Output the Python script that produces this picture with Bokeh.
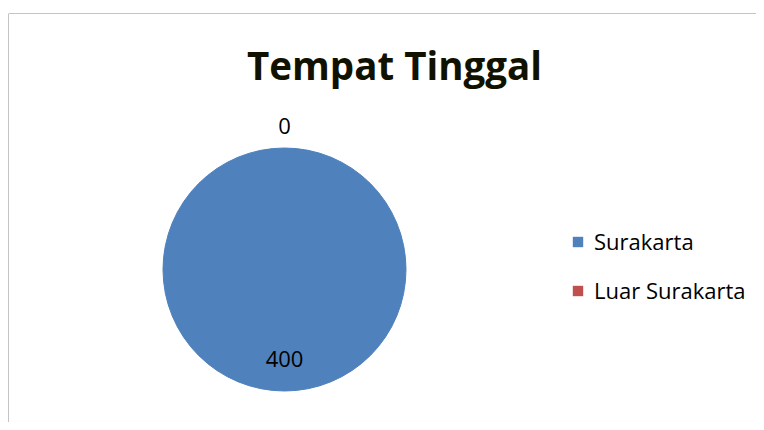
import numpy as np
from bokeh.plotting import figure
from bokeh.models import ColumnDataSource, Legend, LegendItem, Span, Range1d, Label
from bokeh.embed import file_html
from bokeh.resources import INLINE
from bokeh.core.properties import value

# ---- data ----
categories = ["Surakarta", "Luar Surakarta"]
counts = [400, 0]
colors = ["#4F81BD", "#C0504D"]
chart_title = "Tempat Tinggal"

# ---- derived (angles from data) ----
vals = np.array(counts, dtype=float)
frac = vals / vals.sum()
cum = np.cumsum(frac)
start = np.pi / 2 - 2 * np.pi * (cum - frac)
end = np.pi / 2 - 2 * np.pi * cum
mid = (start + end) / 2

FW, FH = 748, 409
cx, cy, R = 276, 153, 122
label_r = np.where(frac > 0, 0.73, 1.18) * R

# each non-zero slice is drawn as two halves (an arc of a full turn
# has coinciding end points and would not render in SVG)
ws, we, wc = [], [], []
for s, e, f, col in zip(start, end, frac, colors):
    if f <= 0:
        continue
    m = (s + e) / 2
    ws += [s, m]
    we += [m, e]
    wc += [col, col]
wedge_src = ColumnDataSource(dict(start=ws, end=we, color=wc))

label_src = ColumnDataSource(dict(
    lx=cx + label_r * np.cos(mid), ly=cy + label_r * np.sin(mid),
    txt=[str(v) for v in counts],
))
legend_src = ColumnDataSource(dict(
    x=[np.nan] * len(categories), y=[np.nan] * len(categories),
    cat=categories, color=colors,
))

p = figure(width=756, height=422, output_backend="svg", toolbar_location=None,
           x_range=Range1d(0, FW), y_range=Range1d(0, FH),
           x_axis_location=None, y_axis_location=None,
           min_border_top=13, min_border_left=8, min_border_right=0, min_border_bottom=0)
p.grid.visible = False
p.outline_line_color = None
p.background_fill_color = "white"
p.border_fill_color = "white"

p.add_layout(Span(location=0, dimension="height", line_color="#8a8a8a", line_width=1))
p.add_layout(Span(location=FH, dimension="width", line_color="#8a8a8a", line_width=1))

p.wedge(x=cx, y=cy, radius=R - 0.5, radius_units="screen",
        start_angle="start", end_angle="end", direction="clock",
        fill_color="color", line_color="color", line_width=1, source=wedge_src)

p.text(x="lx", y="ly", text="txt", source=label_src, text_align="center",
       text_baseline="middle", text_font=value("Open Sans"),
       text_font_size="22px", text_color="#000000")

p.add_layout(Label(x=386, y=358, text=chart_title, text_align="center",
                   text_baseline="alphabetic", text_font="Open Sans",
                   text_font_style="bold", text_font_size="38.5px",
                   text_color="#111100"))

lr = p.rect(x="x", y="y", width=1, height=1, fill_color="color",
            line_color=None, source=legend_src)
items = [LegendItem(label=c, renderers=[lr], index=i) for i, c in enumerate(categories)]

legend = Legend(items=items, location=(563, 117), orientation="vertical",
                glyph_width=13, glyph_height=13, label_standoff=10,
                label_height=30, spacing=19, padding=0, margin=0,
                label_text_font="Open Sans", label_text_font_size="22px",
                label_text_color="#000000",
                border_line_color=None, background_fill_alpha=0)
p.add_layout(legend)

open("out.html", "w").write(file_html(p, INLINE))
